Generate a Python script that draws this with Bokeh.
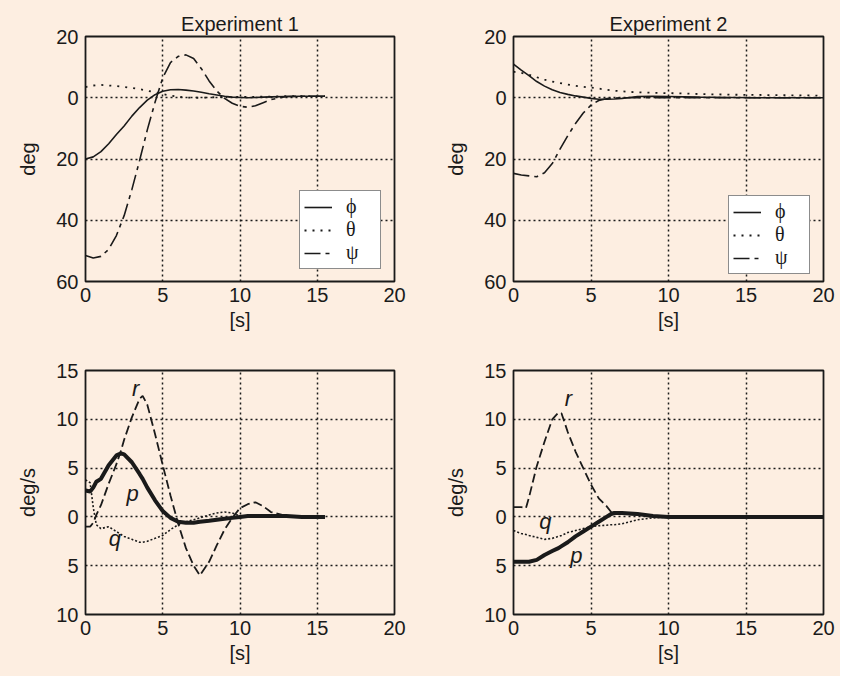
from bokeh.plotting import figure
from bokeh.layouts import gridplot
from bokeh.models import FixedTicker, Range1d
from bokeh.core.properties import value
from bokeh.embed import file_html
from bokeh.resources import INLINE

# ---------------- data ----------------
titles = ["Experiment 1", "Experiment 2"]
x_ticks = [0, 5, 10, 15, 20]
att_ticks = [20, 0, -20, -40, -60]
att_tick_labels = ["20", "0", "20", "40", "60"]
rate_ticks = [15, 10, 5, 0, -5, -10]
rate_tick_labels = ["15", "10", "5", "0", "5", "10"]
legend_names = ["\u03d5", "\u03b8", "\u03c8"]

# Experiment 1 attitude
t1 = [0, 0.5, 1, 1.5, 2, 2.5, 3, 3.5, 4, 4.5, 5, 5.5, 6, 6.5, 7, 7.5, 8, 8.5,
      9, 9.5, 10, 10.5, 11, 11.5, 12, 13, 14, 15, 15.5]
phi1 = [-20, -19.3, -17.6, -15, -12, -9.2, -6, -3.2, -0.8, 1.0, 2.1, 2.6, 2.7,
        2.5, 2.2, 1.8, 1.3, 0.9, 0.5, 0.2, 0.1, 0, 0.1, 0.2, 0.3, 0.4, 0.5, 0.5, 0.5]
theta1 = [3.5, 4.0, 4.2, 4.0, 3.8, 3.5, 3.2, 2.8, 2.3, 1.8, 1.2, 0.7, 0.3, 0.1,
          0, 0, 0.1, 0.2, 0.3, 0.3, 0.3, 0.3, 0.3, 0.4, 0.4, 0.5, 0.5, 0.5, 0.5]
psi1 = [-51.5, -52.3, -51.8, -49.5, -45, -38.5, -30, -20.5, -10.5, -1.5, 6.5,
        11.5, 13.5, 14, 12.8, 9.5, 5.5, 2.2, -0.2, -1.8, -2.8, -3.1, -2.6, -1.6,
        -0.6, 0.4, 0.5, 0.5, 0.5]

# Experiment 2 attitude
t2 = [0, 0.5, 1, 1.5, 2, 2.5, 3, 3.5, 4, 4.5, 5, 5.5, 6, 6.5, 7, 7.5, 8, 9,
      10, 11, 12, 14, 16, 18, 20]
phi2 = [11, 9, 7.2, 5.3, 3.8, 2.6, 1.7, 1.1, 0.6, 0.2, -0.2, -0.5, -0.5, -0.4,
        -0.2, 0.1, 0.4, 0.5, 0.4, 0.3, 0.2, 0.1, 0, 0, 0]
theta2 = [8.5, 8.1, 7.5, 6.7, 5.9, 5.3, 4.8, 4.3, 3.9, 3.6, 3.3, 3.0, 2.6, 2.3,
          2.1, 1.9, 1.8, 1.6, 1.5, 1.4, 1.2, 1.0, 0.9, 0.8, 0.7]
psi2 = [-24.7, -25.2, -25.5, -25.8, -24.5, -21.5, -16.8, -12.4, -8.4, -5.0,
        -2.4, -0.9, -0.3, -0.1, 0, 0, 0, 0, 0, 0, 0, 0, 0, 0, 0]

# Experiment 1 rates
t3 = [0, 0.3, 0.5, 0.7, 1, 1.5, 2, 2.3, 2.5, 3, 3.5, 3.7, 4, 4.5, 5, 5.5, 6,
      6.5, 7, 7.4, 8, 8.5, 9, 9.5, 10, 10.5, 11, 11.5, 12, 13, 14, 15, 15.5]
p3 = [2.7, 2.6, 3.0, 3.6, 3.9, 5.3, 6.3, 6.5, 6.4, 5.6, 4.4, 3.9, 3.0, 1.7,
      0.6, -0.1, -0.5, -0.6, -0.6, -0.5, -0.4, -0.3, -0.2, -0.1, 0, 0.1, 0.1,
      0.1, 0.1, 0.1, 0, 0, 0]
q3 = [3.8, 3.5, 1.0, -0.8, -1.2, -1.0, -1.5, -1.8, -2.0, -2.3, -2.6, -2.6,
      -2.5, -2.2, -1.9, -1.3, -0.8, -0.5, -0.3, -0.1, 0.2, 0.4, 0.5, 0.4, 0.1,
      0.1, 0.1, 0.1, 0.1, 0, 0, 0, 0]
r3 = [-1.0, -1.0, -0.6, 0.2, 1.2, 3.4, 5.4, 6.8, 7.9, 10.2, 12.1, 12.4, 11.5,
      8.5, 5.3, 2.2, -0.7, -3.2, -5.0, -6.0, -4.6, -2.9, -1.3, -0.1, 0.9, 1.3,
      1.5, 1.1, 0.5, 0.1, 0, 0, 0]

# Experiment 2 rates
t4 = [0, 0.5, 0.8, 1, 1.5, 2, 2.5, 2.9, 3.1, 3.5, 4, 4.5, 5, 5.5, 6, 6.3, 6.5,
      7, 8, 9, 10, 12, 14, 16, 18, 20]
p4 = [-4.6, -4.6, -4.6, -4.6, -4.4, -3.9, -3.5, -3.2, -3.0, -2.6, -2.0, -1.5,
      -1.0, -0.5, 0, 0.3, 0.4, 0.4, 0.3, 0.1, 0, 0, 0, 0, 0, 0]
q4 = [-1.4, -1.7, -1.8, -1.9, -2.1, -2.3, -2.2, -2.0, -1.9, -1.6, -1.4, -1.2,
      -1.0, -0.9, -0.85, -0.8, -0.8, -0.7, -0.3, -0.1, 0, 0, 0, 0, 0, 0]
r4 = [1.0, 1.0, 0.9, 2.0, 5.2, 7.7, 10.0, 10.7, 10.6, 8.7, 6.7, 5.0, 3.3, 1.9,
      1.1, 0.5, 0.4, 0.3, 0.2, 0.1, 0, 0, 0, 0, 0, 0]

# curve name annotations (data coordinates)
rate_names = ["r", "p", "q"]
names1_t = [3.25, 3.05, 1.9]
names1_v = [13.2, 2.4, -2.2]
names2_t = [3.55, 4.05, 2.05]
names2_v = [12.1, -4.0, -0.5]

# ---------------- style ----------------
BG = "#fdeee1"
FONT = "Liberation Sans"
INK = "#1a1a1a"


def make_fig(left, right, top, bottom, height, yr, yticks, ylabels, ylabel, title=None):
    kw = dict(width=420, height=height, output_backend="svg", toolbar_location=None,
              x_range=Range1d(0, 20), y_range=Range1d(*yr),
              min_border_left=left, min_border_right=right,
              min_border_top=top, min_border_bottom=bottom,
              background_fill_color=BG, border_fill_color=BG,
              styles={"background-color": BG})
    if title is not None:
        kw["title"] = title
    p = figure(**kw)
    if title is not None:
        p.title.align = "center"
        p.title.text_font = FONT
        p.title.text_font_size = "20px"
        p.title.text_font_style = "normal"
        p.title.text_color = INK
        p.title.standoff = 4
    p.outline_line_color = INK
    p.outline_line_width = 1.8
    p.outline_line_alpha = 1
    for ax in (p.xaxis[0], p.yaxis[0]):
        ax.axis_line_color = None
        ax.major_tick_line_color = None
        ax.minor_tick_line_color = None
        ax.major_tick_out = 0
        ax.major_tick_in = 0
        ax.major_label_text_font = FONT
        ax.major_label_text_font_size = "20px"
        ax.major_label_text_color = INK
        ax.axis_label_text_font = FONT
        ax.axis_label_text_font_size = "20px"
        ax.axis_label_text_font_style = "normal"
        ax.axis_label_text_color = INK
    p.xaxis.ticker = FixedTicker(ticks=x_ticks)
    p.xaxis.axis_label = "[s]"
    p.xaxis.major_label_standoff = 6
    p.xaxis.axis_label_standoff = 4
    p.yaxis.ticker = FixedTicker(ticks=yticks)
    p.yaxis.major_label_overrides = {v: s for v, s in zip(yticks, ylabels)}
    p.yaxis.axis_label = ylabel
    p.yaxis.major_label_standoff = 7
    p.yaxis.axis_label_standoff = 14
    p.xgrid.ticker = FixedTicker(ticks=x_ticks[1:-1])
    p.ygrid.ticker = FixedTicker(ticks=yticks[1:-1])
    for g in (p.xgrid[0], p.ygrid[0]):
        g.grid_line_color = INK
        g.grid_line_width = 1.5
        g.grid_line_dash = "2 3"
        g.grid_line_alpha = 1
    return p


def att_plot(left, right, title, t, phi, theta, psi, loc):
    p = make_fig(left, right, 36, 57, 338, (-60, 20), att_ticks, att_tick_labels, "deg", title)
    p.line(t, phi, line_color=INK, line_width=1.6, legend_label=legend_names[0])
    p.line(t, theta, line_color=INK, line_width=1.8, line_dash="2 6", legend_label=legend_names[1])
    p.line(t, psi, line_color=INK, line_width=1.6, line_dash="16 5 4 5", legend_label=legend_names[2])
    lg = p.legend[0]
    lg.location = loc
    lg.label_text_font = "Liberation Serif"
    lg.label_text_font_size = "20px"
    lg.label_text_color = INK
    lg.border_line_color = INK
    lg.border_line_width = 1.5
    lg.background_fill_color = "white"
    lg.background_fill_alpha = 1
    lg.glyph_width = 28
    lg.glyph_height = 20
    lg.label_height = 20
    lg.label_width = 30
    lg.label_standoff = 14
    lg.spacing = 0
    lg.padding = 4
    lg.margin = 0
    return p


def rate_plot(left, right, t, pv, qv, rv, nt, nv):
    p = make_fig(left, right, 32, 62, 338, (-10, 15), rate_ticks, rate_tick_labels, "deg/s")
    p.line(t, qv, line_color=INK, line_width=1.6, line_dash="2 2")
    p.line(t, rv, line_color=INK, line_width=1.8, line_dash="9 4")
    p.line(t, pv, line_color=INK, line_width=4)
    p.text(x=nt, y=nv, text=rate_names, text_font=value(FONT), text_font_style="italic",
           text_font_size="22px", text_color=INK, text_align="center", text_baseline="middle")
    return p


f1 = att_plot(85, 26, titles[0], t1, phi1, theta1, psi1, (214, 12))
f2 = att_plot(93, 17, titles[1], t2, phi2, theta2, psi2, (215, 7))
f3 = rate_plot(85, 26, t3, p3, q3, r3, names1_t, names1_v)
f4 = rate_plot(93, 17, t4, p4, q4, r4, names2_t, names2_v)

grid = gridplot([[f1, f2], [f3, f4]], toolbar_location=None)
grid.styles = {"background-color": BG}

open("out.html", "w").write(file_html(grid, INLINE))
